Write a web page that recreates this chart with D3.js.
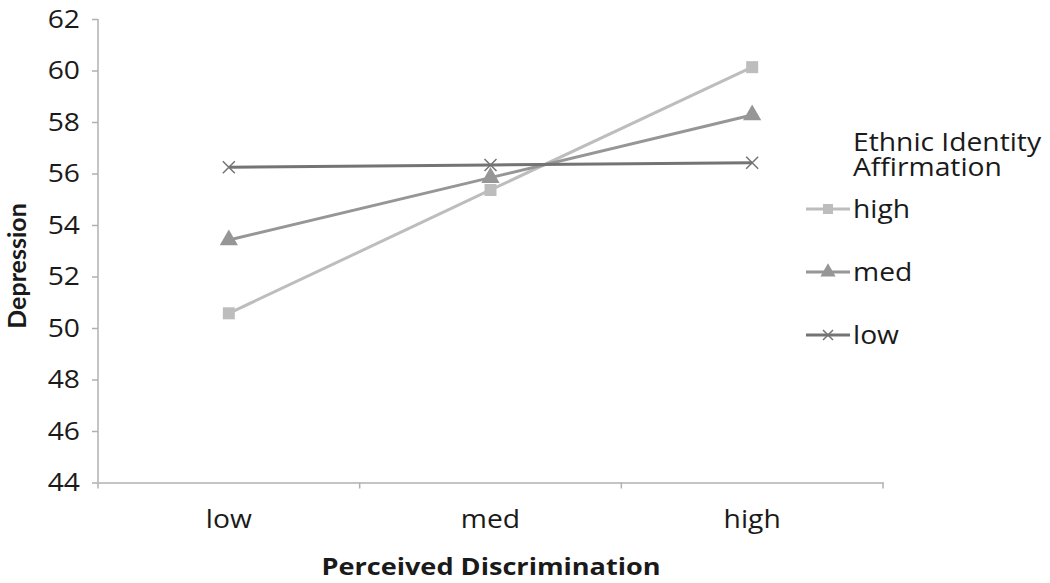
<!DOCTYPE html>
<html><head><meta charset="utf-8">
<script src="https://cdn.jsdelivr.net/npm/d3@7"></script>
<style>body{margin:0;background:#fff}text{font-family:"Open Sans",sans-serif}</style>
</head><body><svg id="c" width="1050" height="583"></svg>
<script>
const categories = ["low","med","high"];
const seriesNames = ["high","med","low"];
const highValues = [50.57, 55.36, 60.13];
const medValues = [53.42, 55.84, 58.27];
const lowValues = [56.24, 56.33, 56.42];
const yTicks = [44,46,48,50,52,54,56,58,60,62];
const legendTitle = ["Ethnic Identity","Affirmation"];
const colors = {high:"#bdbdbd", med:"#969696", low:"#747474"};
const series = [
  {name:"high", values:highValues, sym:d3.symbolSquare},
  {name:"med", values:medValues, sym:d3.symbolTriangle},
  {name:"low", values:lowValues, sym:"x"}
];
const svg = d3.select("#c");
const x0 = 98, x1 = 883, yTop = 19, yBot = 482.5;
const x = d3.scaleBand().domain(categories).range([x0,x1]);
const y = d3.scaleLinear().domain([44,62]).range([yBot,yTop]);
const FONT = "'Open Sans',sans-serif";
const SX = 1.13;
function stretch(sel){
  sel.each(function(){
    const t = d3.select(this);
    const tx = +t.attr("x")||0, ty = +t.attr("y")||0;
    t.attr("x",0).attr("y",0).attr("transform",`translate(${tx},${ty}) scale(${SX},1)`);
  });
}

// y axis
const ya = svg.append("g").attr("transform",`translate(${x0},0)`)
  .call(d3.axisLeft(y).tickValues(yTicks).tickSize(6).tickPadding(12));
ya.select(".domain").attr("stroke","#b0b0b0").attr("stroke-width",1.5).attr("d",`M0,${yTop}V${yBot}`);
ya.selectAll(".tick line").attr("stroke","#b0b0b0").attr("stroke-width",1.5);
ya.selectAll(".tick text").attr("font-size",25).attr("fill","#1a1a1a").style("font-family",FONT).call(stretch);

// x axis
const xa = svg.append("g").attr("transform",`translate(0,${yBot})`)
  .call(d3.axisBottom(x).tickSize(0).tickPadding(28));
xa.select(".domain").attr("stroke","#b0b0b0").attr("stroke-width",1.5);
xa.selectAll(".tick text").attr("font-size",25).attr("fill","#1a1a1a").style("font-family",FONT).call(stretch);
const bounds = [x0].concat(categories.map(c=>x(c)+x.bandwidth()));
svg.append("g").selectAll("line").data(bounds).join("line")
  .attr("x1",d=>d).attr("x2",d=>d).attr("y1",yBot).attr("y2",yBot+6)
  .attr("stroke","#b0b0b0").attr("stroke-width",1.5);

// titles
svg.append("text").attr("x",491).attr("y",575).attr("text-anchor","middle")
  .attr("font-size",24).attr("font-weight","bold").attr("fill","#1a1a1a").text("Perceived Discrimination").call(stretch);
svg.append("text").attr("transform","translate(26,266) rotate(-90)").attr("text-anchor","middle")
  .style("font-family","Lato,sans-serif")
  .attr("font-size",25).attr("font-weight","bold").attr("fill","#1a1a1a").text("Depression");

const cx = c => x(c) + x.bandwidth()/2;
const line = d3.line().x((d,i)=>cx(categories[i])).y(d=>y(d));
function drawSym(g, s, px, py, size){
  if(s.sym==="x"){
    const r=size;
    g.append("path").attr("d",`M${px-r},${py-r}L${px+r},${py+r}M${px-r},${py+r}L${px+r},${py-r}`)
      .attr("stroke",colors[s.name]).attr("stroke-width",1.5).attr("fill","none");
  } else {
    g.append("path").attr("transform",`translate(${px},${py})`)
      .attr("d",d3.symbol().type(s.sym).size(size*size*4)()).attr("fill",colors[s.name]);
  }
}
series.forEach(s=>{
  const g = svg.append("g");
  g.append("path").attr("d",line(s.values)).attr("fill","none")
    .attr("stroke",colors[s.name]).attr("stroke-width",3);
  s.values.forEach((v,i)=>drawSym(g,s,cx(categories[i]),y(v),6));
});

// legend
const lt = svg.append("text").attr("x",853).attr("y",151).attr("font-size",25).attr("fill","#1a1a1a");
lt.selectAll("tspan").data(legendTitle).join("tspan")
  .attr("x",0).attr("dy",(d,i)=>i?25:0).text(d=>d);
lt.call(stretch);
const legY = [209, 272, 335];
series.forEach((s,i)=>{
  const g = svg.append("g");
  g.append("line").attr("x1",806).attr("x2",850).attr("y1",legY[i]).attr("y2",legY[i])
    .attr("stroke",colors[s.name]).attr("stroke-width",3);
  drawSym(g,s,828,legY[i],5);
  g.append("text").attr("x",853).attr("y",legY[i]+9).attr("font-size",25).attr("fill","#1a1a1a").text(s.name).call(stretch);
});
</script></body></html>
